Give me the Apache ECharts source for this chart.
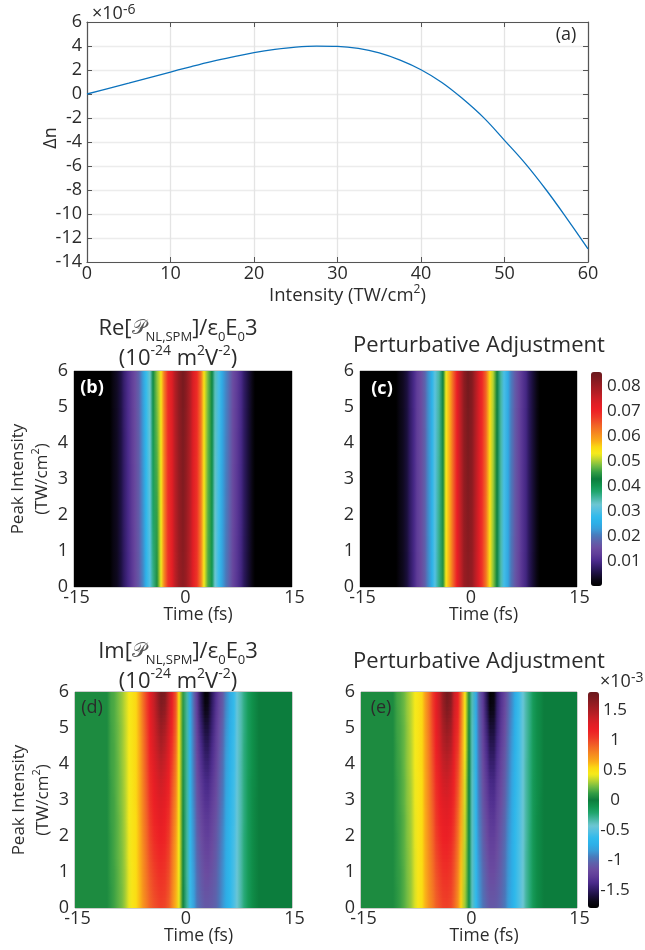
<!DOCTYPE html>
<html><head><meta charset="utf-8">
<style>html,body{margin:0;padding:0;background:#fff}#c{width:645px;height:950px}</style>
<script src="https://cdn.jsdelivr.net/npm/echarts@6/dist/echarts.min.js"></script></head>
<body><div id="c"></div><script>
const intensity=[0,2.5,5,7.5,10,12.5,15,17.5,20,22.5,25,27.5,30,32.5,35,37.5,40,42.5,45,47.5,50,52.5,55,57.5,60];
const deltaN=[0,.45,.9,1.37,1.83,2.29,2.72,3.1,3.45,3.72,3.91,3.99,3.97,3.8,3.42,2.82,2.02,.96,-.4,-1.97,-3.86,-5.8,-8,-10.4,-12.9];
const timeFs=[-15,-14.5,-14,-13.5,-13,-12.5,-12,-11.5,-11,-10.5,-10,-9.5,-9,-8.5,-8,-7.5,-7,-6.5,-6,-5.5,-5,-4.5,-4,-3.5,-3,-2.5,-2,-1.5,-1,-.5,0,.5,1,1.5,2,2.5,3,3.5,4,4.5,5,5.5,6,6.5,7,7.5,8,8.5,9,9.5,10,10.5,11,11.5,12,12.5,13,13.5,14,14.5,15];
const rowsRe=[0,2,4,6];
const rowsIm=[0,.5,1,1.5,2,2.5,3,3.5,4,4.5,5,5.5,6];
const edgeZero=[0,0,0,0,0,0,0,0,0,0,0];
// Panel (b), in units of 1e-4, t = -9.5..9.5
const reB=[
[18,30,50,72,95,120,142,170,210,255,300,360,440,525,610,680,720,765,800,815,800,765,725,680,615,530,465,400,325,280,235,200,170,140,115,92,68,45,22],
[19,32,52,75,98,124,145,173,217,263,310,380,455,530,613,684,724,768,806,825,806,770,728,684,620,535,470,407,330,284,239,204,174,144,119,95,71,47,23],
[19,33,53,77,101,127,147,176,223,271,320,397,472,535,616,687,727,771,810,832,813,775,731,687,625,540,475,413,335,287,242,207,177,147,122,97,73,48,24],
[20,35,55,80,105,130,150,180,230,280,330,415,490,540,620,690,730,775,815,840,820,780,735,690,630,545,480,420,340,290,245,210,180,150,125,100,75,50,25]];
// Panel (c), in units of 1e-4, t = -9.5..9.5
const reC=[
[16,30,48,72,97,124,146,175,210,255,302,365,445,535,590,655,708,762,800,815,805,770,725,680,625,545,490,420,345,290,240,200,165,136,114,92,67,43,18],
[17,31,49,73,98,125,147,177,212,258,305,360,440,530,588,655,710,765,806,825,812,775,728,685,630,548,495,424,347,292,242,202,167,138,115,93,68,44,19],
[17,31,49,74,99,127,149,178,214,260,308,355,435,528,587,655,711,768,811,835,819,780,732,690,635,552,500,427,349,294,244,204,169,139,117,94,69,44,19],
[18,32,50,75,100,128,150,180,215,262,310,350,430,525,585,655,712,770,815,845,825,785,735,695,640,555,505,430,350,295,245,205,170,140,118,95,70,45,20]];
// Tails of (d),(e), t=-15..-10.5 and 10.5..15, units 1e-5
const tailLeftIm=[5,5,5,5,5,5,5,5,5,5];
const tailRightIm=[0,0,0,0,0,0,0,0,0,0];
// Panel (d), units 1e-5, t = -10..10
const imD=[
[10,13,18,23,29,40,46,52,62,72,82,90,96,100,102,100,92,78,62,40,2,-30,-60,-82,-96,-104,-110,-110,-108,-104,-96,-86,-76,-66,-55,-44,-33,-24,-15,-8,-4],
[10,13,18,23,29,40,46,52,62,73,84,92,99,103,105,103,95,80,63,41,2,-30,-61,-84,-98,-107,-113,-113,-110,-105,-97,-87,-76,-66,-55,-44,-33,-24,-15,-8,-4],
[11,13,18,24,29,40,46,53,63,74,86,95,102,107,109,106,98,83,65,42,3,-31,-62,-86,-100,-110,-116,-117,-113,-107,-98,-88,-77,-66,-56,-44,-33,-24,-15,-8,-4],
[11,14,19,24,30,41,47,53,64,75,88,98,106,111,113,110,101,85,67,43,3,-31,-63,-88,-103,-113,-120,-121,-116,-109,-100,-89,-77,-67,-56,-45,-33,-24,-15,-8,-4],
[11,14,19,25,30,41,47,53,64,77,90,101,110,115,118,114,104,88,69,44,4,-31,-64,-89,-105,-116,-124,-125,-119,-111,-102,-90,-78,-67,-57,-45,-33,-24,-15,-8,-4],
[12,14,19,25,31,42,47,53,65,78,92,104,114,120,123,118,108,91,72,46,4,-31,-66,-91,-108,-120,-128,-129,-122,-114,-104,-92,-79,-68,-58,-45,-34,-25,-15,-8,-4],
[12,14,20,26,31,42,47,54,66,79,94,107,118,125,128,123,112,94,75,47,5,-31,-67,-93,-111,-124,-133,-134,-126,-117,-106,-94,-80,-69,-58,-45,-34,-25,-15,-8,-4],
[12,15,20,26,32,42,47,54,66,80,96,110,122,130,134,129,116,98,78,48,6,-31,-69,-95,-114,-128,-138,-139,-130,-120,-108,-96,-82,-71,-59,-46,-34,-25,-15,-8,-5],
[13,15,20,27,32,43,48,54,67,81,98,113,127,136,141,135,121,103,81,49,7,-31,-70,-97,-117,-133,-144,-145,-135,-123,-111,-98,-84,-72,-60,-46,-34,-25,-16,-9,-5],
[13,15,21,27,33,43,48,54,67,82,99,116,131,142,149,142,127,108,85,50,8,-31,-72,-99,-120,-138,-151,-152,-139,-126,-114,-100,-86,-74,-60,-46,-35,-25,-16,-9,-5],
[13,16,21,27,33,44,48,54,68,83,101,118,134,148,157,150,132,114,89,51,8,-32,-73,-101,-123,-144,-159,-159,-144,-129,-117,-103,-88,-75,-61,-46,-35,-26,-16,-9,-5],
[14,16,22,28,34,44,48,54,69,85,103,120,137,154,166,160,137,119,92,52,9,-32,-75,-103,-126,-150,-169,-167,-148,-132,-120,-106,-90,-77,-62,-46,-35,-26,-16,-9,-5],
[14,16,22,28,34,44,48,54,70,86,104,122,140,160,174,170,142,124,95,52,10,-32,-76,-105,-128,-155,-178,-175,-152,-135,-122,-108,-92,-78,-62,-46,-35,-26,-16,-9,-5]];
// Panel (e), units 1e-5, t = -10..10
const imE=[
[9,12,17,22,28,38,46,52,62,73,82,91,97,101,102,99,90,74,55,28,-8,-38,-64,-84,-97,-105,-110,-110,-108,-103,-95,-85,-75,-65,-54,-43,-32,-23,-14,-7,-3],
[9,12,17,22,28,38,46,52,62,74,84,93,100,104,105,102,93,76,57,29,-7,-38,-65,-86,-99,-108,-113,-113,-110,-104,-96,-86,-75,-65,-54,-43,-32,-23,-14,-7,-3],
[10,12,17,23,28,39,46,52,63,75,86,96,103,108,109,105,96,79,59,31,-6,-38,-66,-87,-101,-111,-117,-117,-113,-106,-97,-87,-76,-66,-55,-43,-32,-23,-14,-7,-3],
[10,13,18,23,29,39,46,53,63,76,88,99,107,112,113,109,99,82,61,32,-5,-38,-67,-89,-104,-114,-121,-121,-116,-108,-99,-88,-76,-66,-55,-44,-32,-23,-14,-7,-3],
[10,13,18,24,29,40,46,53,64,77,90,102,111,116,118,113,103,85,64,34,-4,-38,-68,-91,-106,-118,-125,-125,-119,-110,-101,-89,-77,-66,-56,-44,-33,-23,-14,-7,-3],
[11,13,18,24,30,40,46,53,64,78,92,105,115,121,123,118,107,88,67,35,-3,-38,-69,-93,-109,-121,-129,-130,-122,-113,-103,-91,-78,-67,-56,-44,-33,-24,-14,-7,-3],
[11,14,19,25,30,41,46,53,65,79,94,107,119,126,129,123,111,92,70,37,-2,-38,-70,-94,-112,-125,-134,-135,-125,-116,-105,-93,-79,-68,-57,-44,-33,-24,-14,-8,-3],
[11,14,19,25,31,41,46,53,65,80,96,110,123,132,135,129,115,96,73,38,-1,-38,-71,-96,-115,-129,-139,-140,-129,-119,-107,-95,-81,-70,-58,-44,-33,-24,-14,-8,-4],
[12,14,20,26,32,42,47,54,66,81,98,113,128,138,142,136,120,100,76,40,1,-37,-73,-98,-118,-134,-146,-146,-134,-122,-110,-97,-83,-71,-58,-45,-33,-24,-15,-8,-4],
[12,15,20,26,32,42,47,54,66,82,100,116,132,144,150,144,125,105,79,42,2,-37,-74,-100,-121,-139,-153,-153,-139,-125,-113,-99,-85,-73,-59,-45,-34,-24,-15,-8,-4],
[13,15,20,26,33,43,47,54,67,83,102,119,135,150,159,152,130,110,83,43,3,-37,-75,-102,-124,-145,-161,-160,-144,-129,-116,-102,-87,-74,-59,-45,-34,-25,-15,-8,-4],
[13,16,21,27,33,43,47,54,67,84,104,121,138,156,168,160,134,114,86,45,5,-36,-77,-104,-127,-151,-171,-168,-147,-132,-118,-104,-89,-75,-60,-45,-34,-25,-15,-8,-4],
[14,16,21,27,34,44,47,54,68,84,105,122,141,161,176,168,138,118,88,46,6,-36,-78,-106,-130,-156,-180,-174,-150,-134,-120,-106,-90,-76,-60,-45,-34,-25,-15,-8,-4]];
const barTicksRe=[.01,.02,.03,.04,.05,.06,.07,.08];
const barTicksIm=[-1.5,-1,-.5,0,.5,1,1.5];
const cmap=['#000000','#0b0716','#1c1040','#321c68','#4b2b8c','#5f3c98','#6b4ca0','#6060aa','#4a78ba','#3a9cd8','#2cb0e8','#2fbaec','#52c0e2','#6dc6d2','#45b6a0','#1fa56c','#11944e','#0c7d3d','#2f9a44','#6cb944','#b4d233','#f5ea1c','#fbdc12','#faae18','#f6901e','#f37324','#f05428','#ee3527','#ed1f25','#df1e25','#c71f26','#ad1e24','#961c22','#7f1b20','#6a191d'];

const FONT='Open Sans',INK='#2b2b2b';
const sup={fontFamily:FONT,fontSize:11,verticalAlign:'top',lineHeight:20,color:INK};
const richAxis={n:{fontFamily:FONT,fontSize:17,color:INK,lineHeight:24},u:sup};
const richWide={n:{fontFamily:FONT,fontSize:18.5,color:INK,lineHeight:24},u:{...sup,fontSize:12}};
const tick={fontFamily:FONT,fontSize:18,color:INK};
const barTick={fontFamily:FONT,fontSize:17,color:INK};
const panels=[
 {g:{left:74,top:371,width:218,height:216},rows:rowsRe,vals:reB,l:edgeZero,r:edgeZero,sc:1e4,title:true},
 {g:{left:360,top:371,width:217,height:216},rows:rowsRe,vals:reC,l:edgeZero,r:edgeZero,sc:1e4},
 {g:{left:75,top:692,width:217,height:216},rows:rowsIm,vals:imD,l:tailLeftIm,r:tailRightIm,sc:1e5,title:true},
 {g:{left:361,top:692,width:216,height:216},rows:rowsIm,vals:imE,l:tailLeftIm,r:tailRightIm,sc:1e5}];
const grid=[{left:87,top:22,width:501,height:240}],xAxis=[],yAxis=[],series=[];
const axisBox={onZero:false,lineStyle:{color:'#555',width:1.2}};
xAxis.push(
 {gridIndex:0,type:'value',min:0,max:60,interval:10,position:'bottom',name:'{n|Intensity (TW/cm}{u|2}{n|)}',nameLocation:'middle',nameGap:22,nameMoveOverlap:false,
  nameTextStyle:{rich:richWide,padding:[0,0,0,20]},axisLine:axisBox,axisTick:{inside:true,length:5,lineStyle:{color:'#555'}},
  axisLabel:{...tick,margin:3},splitLine:{show:true,lineStyle:{color:'#e4e4e4',width:1.3}}},
 {gridIndex:0,type:'value',min:0,max:60,interval:10,position:'top',axisLine:axisBox,axisTick:{inside:true,length:5,lineStyle:{color:'#555'}},axisLabel:{show:false},splitLine:{show:false}});
yAxis.push(
 {gridIndex:0,type:'value',min:-14,max:6,interval:2,position:'left',name:'Δn',nameLocation:'middle',nameGap:27,nameMoveOverlap:false,
  nameTextStyle:{fontFamily:FONT,fontSize:18,color:INK,padding:[0,0,0,8]},axisLine:axisBox,axisTick:{inside:true,length:5,lineStyle:{color:'#555'}},
  axisLabel:{...tick,margin:5},splitLine:{show:true,lineStyle:{color:'#ececec',width:1.3}}},
 {gridIndex:0,type:'value',min:-14,max:6,interval:2,position:'right',axisLine:axisBox,axisTick:{inside:true,length:5,lineStyle:{color:'#555'}},axisLabel:{show:false},splitLine:{show:false}});
series.push({type:'line',xAxisIndex:0,yAxisIndex:0,data:intensity.map((x,i)=>[x,deltaN[i]]),smooth:.4,showSymbol:false,lineStyle:{color:'#0b72bd',width:1.3}});
const lerp=echarts.color.lerp;
// Each data cell is painted from its own mapped colour to those of its neighbours.
const cellRender=(params,api,nRows)=>{
 const cs=params.coordSys,x=api.value(0),y=api.value(1),nCols=timeFs.length;
 if(x>=nCols-1||y>=nRows-1) return null;
 const i=params.dataIndexInside,p=api.coord([x,y]),q=api.coord([x+1,y]),dh=cs.height/(nRows-1);
 const c00=api.visual('color'),c10=api.visual('color',i+1),c01=api.visual('color',i+nCols),c11=api.visual('color',i+nCols+1);
 const x0=Math.floor(p[0]),x1=Math.floor(q[0]),right=Math.min(cs.x+cs.width,x1+1);
 const S=(c00===c01&&c10===c11)?1:Math.max(1,Math.round(dh/4)),children=[];
 for(let s=0;s<S;s++){
  const f=(s+.5)/S,l=S===1?c00:lerp(f,[c00,c01]),r=S===1?c10:lerp(f,[c10,c11]);
  const yb=S===1?p[1]:Math.round(p[1]-s*dh/S),yt=Math.round(p[1]-(s+1)*dh/S);
  const top=Math.max(cs.y,yt),bot=Math.min(cs.y+cs.height,Math.round(yb)+1);
  children.push({type:'rect',shape:{x:x0,y:top,width:right-x0,height:bot-top},
   style:{fill:l===r?l:new echarts.graphic.LinearGradient(x0,0,x1,0,[{offset:0,color:l},{offset:1,color:r}],true)}});
 }
 return {type:'group',children};
};
panels.forEach((p,i)=>{
 const gi=i+1;
 grid.push({...p.g,show:true,borderColor:'#9a9a9a',borderWidth:1,backgroundColor:'transparent'});
 const xa=xAxis.length,ya=yAxis.length;
 xAxis.push({gridIndex:gi,type:'category',boundaryGap:false,data:timeFs.map(String),show:false});
 yAxis.push({gridIndex:gi,type:'category',boundaryGap:false,data:p.rows.map(String),show:false});
 xAxis.push({gridIndex:gi,type:'value',min:-15,max:15,interval:15,position:'bottom',name:'Time (fs)',nameLocation:'middle',nameGap:19,nameMoveOverlap:false,
  nameTextStyle:{fontFamily:FONT,fontSize:17.5,color:INK,padding:[0,0,0,30]},axisLine:{show:false},axisTick:{show:false},axisLabel:{...tick,margin:2,padding:[0,0,0,5]},splitLine:{show:false}});
 yAxis.push({gridIndex:gi,type:'value',min:0,max:6,interval:1,position:'left',
  name:p.title?'{n|Peak Intensity}\n{n|(TW/cm}{u|2}{n|)}':'',nameLocation:'middle',nameGap:20,nameMoveOverlap:false,
  nameTextStyle:{rich:richAxis},axisLine:{show:false},axisTick:{show:false},axisLabel:{...tick,margin:6},splitLine:{show:false}});
 const d=[];
 p.vals.forEach((row,y)=>[...p.l,...row,...p.r].forEach((v,x)=>d.push([x,y,v/p.sc])));
 series.push({type:'custom',coordinateSystem:'cartesian2d',xAxisIndex:xa,yAxisIndex:ya,data:d,encode:{x:0,y:1},silent:true,
  renderItem:(params,api)=>cellRender(params,api,p.rows.length)});
});
const bars=[{left:591,top:372,width:11,height:214,min:0,max:.0855,ticks:barTicksRe,fmt:v=>v.toFixed(2),lab:{margin:5,align:'left'}},
 {left:588,top:692,width:11,height:216,min:-1.8,max:1.8,ticks:barTicksIm,fmt:v=>String(v),lab:{margin:16,align:'center'}}];
bars.forEach((b,i)=>{
 const gi=5+i;
 grid.push({left:b.left,top:b.top,width:b.width,height:b.height});
 xAxis.push({gridIndex:gi,type:'value',show:false,min:0,max:1});
 yAxis.push({gridIndex:gi,type:'value',min:b.min,max:b.max,position:'right',axisLine:{show:false},axisTick:{show:false},splitLine:{show:false},
  axisLabel:{...barTick,...b.lab,customValues:b.ticks,formatter:b.fmt}});
});
const vmBase={type:'continuous',dimension:2,calculable:false,showLabel:false,padding:0,inRange:{color:cmap},hoverLink:false,text:null,itemWidth:11};
const visualMap=[
 {...vmBase,seriesIndex:[1,2],min:0,max:.0855,left:591,top:372,itemHeight:214},
 {...vmBase,seriesIndex:[3,4],min:-.0018,max:.0018,left:588,top:692,itemHeight:216}];
const richT={n:{fontFamily:FONT,fontSize:22,color:INK,lineHeight:30},s:{fontFamily:FONT,fontSize:13,color:INK,verticalAlign:'bottom',lineHeight:26},
 p:{fontFamily:'DejaVu Sans',fontSize:20,color:'#555',lineHeight:30},u:{fontFamily:FONT,fontSize:14,color:INK,verticalAlign:'top',lineHeight:26}};
const mkT=(text,left,top)=>({text,left,top,textAlign:'center',padding:0,textStyle:{rich:richT,fontFamily:FONT,fontSize:22,fontWeight:'normal',color:INK}});
const line2='{n|(10}{u|-24}{n| m}{u|2}{n|V}{u|-2}{n|)}';
const title=[
 mkT('{n|Re[}{p|𝒫}{s|NL,SPM}{n|]/ε}{s|0}{n|E}{s|0}{n|3}\n'+line2,178,314),
 mkT('{n|Im[}{p|𝒫}{s|NL,SPM}{n|]/ε}{s|0}{n|E}{s|0}{n|3}\n'+line2,178,637),
 mkT('{n|Perturbative Adjustment}',479,331),
 mkT('{n|Perturbative Adjustment}',479,647)];
const label=(t,x,y,fill,w)=>({type:'text',z:100,x,y,style:{text:t,fill,fontFamily:FONT,fontSize:18,fontWeight:w||'normal',align:'center',verticalAlign:'middle'}});
const expRich={u:{fontFamily:FONT,fontSize:14,verticalAlign:'top',lineHeight:22,fill:INK}};
const graphic=[
 label('(a)',566,35,INK),label('(b)',92,388,'#fff','bold'),label('(c)',382,389,'#fff','bold'),label('(d)',92,708,INK),label('(e)',381,708,INK),
 {type:'text',z:100,left:92,top:3,style:{text:'×10{u|-6}',rich:expRich,fill:INK,fontFamily:FONT,fontSize:18}},
 {type:'text',z:100,left:600,top:671,style:{text:'×10{u|-3}',rich:expRich,fill:INK,fontFamily:FONT,fontSize:18}}];
const chart=echarts.init(document.getElementById('c'),null,{renderer:'canvas'});
chart.setOption({animation:false,backgroundColor:'#fff',title,grid,xAxis,yAxis,series,visualMap,graphic});
</script></body></html>
